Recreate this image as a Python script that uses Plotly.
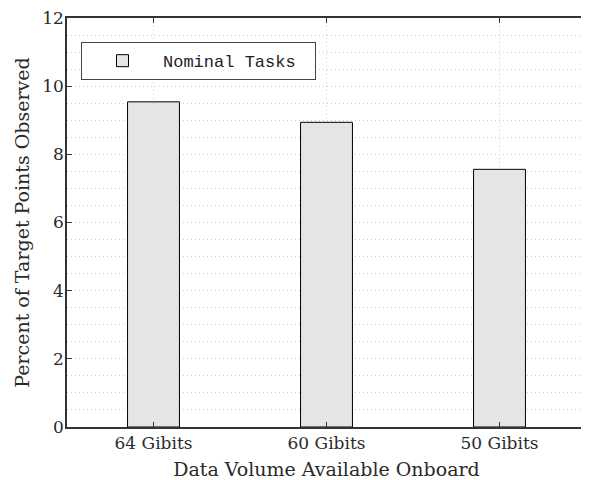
import plotly.graph_objects as go

categories = ["64 Gibits", "60 Gibits", "50 Gibits"]
nominal_tasks = [9.54, 8.94, 7.56]
y_ticks = [0, 2, 4, 6, 8, 10, 12]
series_name = "Nominal Tasks"

SERIF = "DejaVu Serif, Liberation Serif, serif"
MONO = "Liberation Mono, Courier New, monospace"
GRID = "#cccccc"
DOTS = "1px,3px"

fig = go.Figure()
fig.add_trace(go.Bar(
    x=list(range(len(categories))),
    y=nominal_tasks,
    name=series_name,
    width=0.3,
    marker=dict(color="#e5e5e5", line=dict(color="#000000", width=1)),
    showlegend=True,
))

# the page body has an 8px margin, so the figure is sized to end at the window edge
fig.update_layout(
    width=581, height=472,
    margin=dict(l=59, r=3, t=10, b=53),
    paper_bgcolor="white", plot_bgcolor="white",
    font=dict(family=SERIF, size=17, color="#2a2a2a"),
    legend=dict(
        orientation="h",
        x=0.027, y=0.941, xanchor="left", yanchor="top",
        bordercolor="#444", borderwidth=1, bgcolor="white",
        font=dict(family=MONO, size=17, color="#222"),
        entrywidth=147, entrywidthmode="pixels", itemwidth=71,
    ),
    xaxis=dict(
        range=[-0.5, 2.5], automargin=False,
        tickmode="array", tickvals=list(range(len(categories))), ticktext=categories,
        ticks="inside", ticklen=5, tickcolor="#333",
        showline=True, linecolor="#333", linewidth=1.5, mirror="ticks",
        showgrid=True, gridcolor=GRID, griddash=DOTS, gridwidth=1,
        zeroline=False, ticklabeloverflow="allow",
        title=dict(text="Data Volume Available Onboard", font=dict(size=19)),
        tickfont=dict(size=17),
    ),
    yaxis=dict(
        range=[0, 12], automargin="left",
        tickmode="array", tickvals=y_ticks,
        ticks="inside", ticklen=5, tickcolor="#333",
        showline=True, linecolor="#333", linewidth=1.5, mirror="ticks",
        showgrid=True, gridcolor=GRID, griddash=DOTS, gridwidth=1,
        minor=dict(dtick=0.5, showgrid=True, gridcolor=GRID, griddash=DOTS, gridwidth=1, ticks=""),
        zeroline=False, ticklabeloverflow="allow", ticklabelstandoff=-2,
        title=dict(text="Percent of Target Points Observed", font=dict(size=19), standoff=8),
        tickfont=dict(size=17),
    ),
)

fig.write_html("out.html")
